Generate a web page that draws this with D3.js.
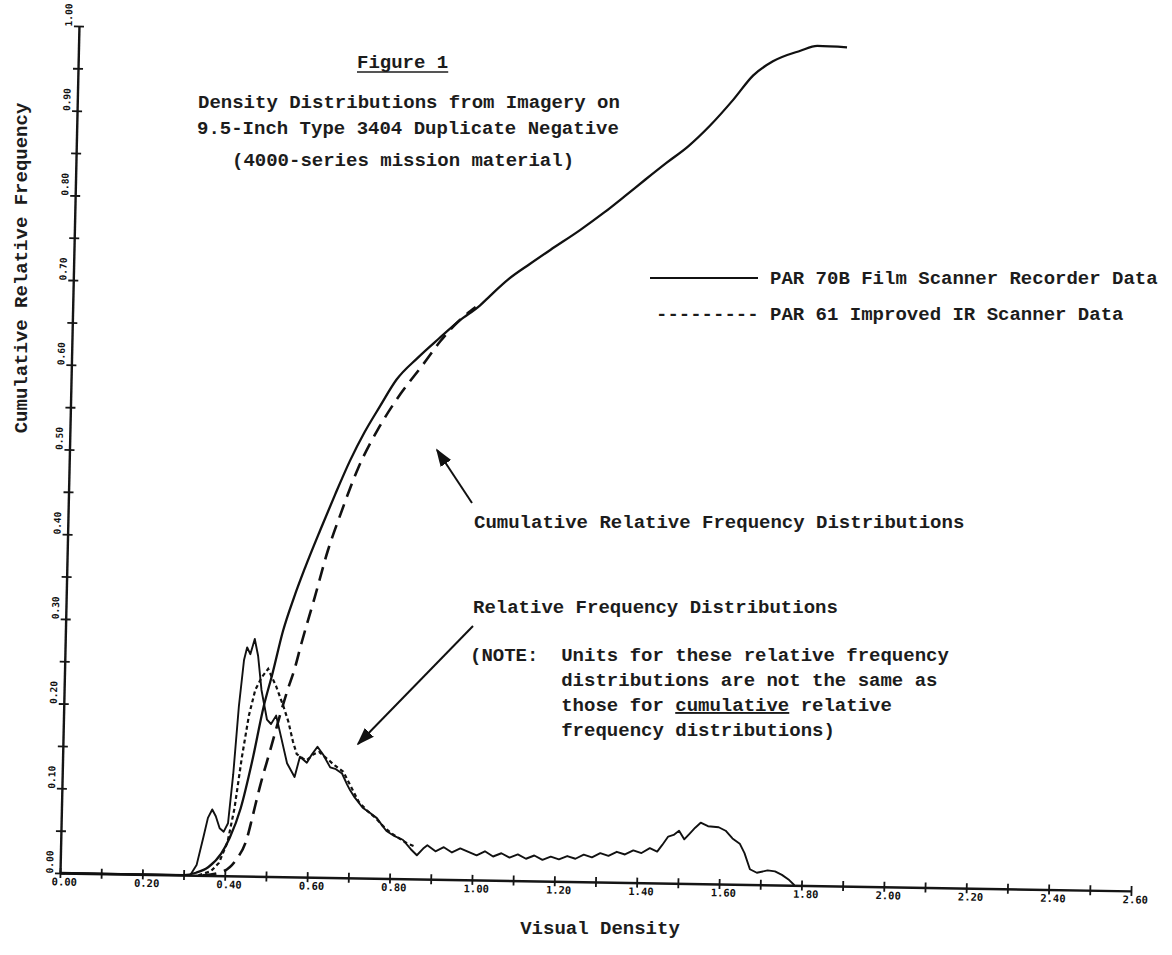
<!DOCTYPE html>
<html><head><meta charset="utf-8">
<script src="https://cdn.jsdelivr.net/npm/d3@7"></script>
<style>
body{margin:0;background:#fff;}
svg{display:block;background:#fff;}
.tw{font-family:"Liberation Mono","Courier New",monospace;font-weight:bold;font-size:19px;fill:#1c1c1c;}
.tkx{font-family:"DejaVu Sans Mono",monospace;font-weight:bold;font-size:10.5px;fill:#111;}
.tky{font-family:"DejaVu Sans Mono",monospace;font-weight:bold;font-size:9.5px;fill:#111;}
</style></head><body>
<svg id="chart" width="1172" height="955"></svg>
<script>
// ---- tick values / labels ----
const xTicks = [0,0.1,0.2,0.3,0.4,0.5,0.6,0.7,0.8,0.9,1.0,1.1,1.2,1.3,1.4,1.5,1.6,1.7,1.8,1.9,2.0,2.1,2.2,2.3,2.4,2.5,2.6];
const xTickLabels = {"0":"0.00","0.2":"0.20","0.4":"0.40","0.6":"0.60","0.8":"0.80","1":"1.00","1.2":"1.20","1.4":"1.40","1.6":"1.60","1.8":"1.80","2":"2.00","2.2":"2.20","2.4":"2.40","2.6":"2.60"};
const yTicks = [0,0.05,0.1,0.15,0.2,0.25,0.3,0.35,0.4,0.45,0.5,0.55,0.6,0.65,0.7,0.75,0.8,0.85,0.9,0.95,1.0];
const yTickLabels = {"0":"0.00","0.1":"0.10","0.2":"0.20","0.3":"0.30","0.4":"0.40","0.5":"0.50","0.6":"0.60","0.7":"0.70","0.8":"0.80","0.9":"0.90","1":"1.00"};

// ---- PAR 70B cumulative relative frequency ----
const cumDensity70B = [0,0.30,0.33,0.36,0.39,0.41,0.435,0.46,0.485,0.505,0.528,0.553,0.578,0.613,0.647,0.682,0.716,0.751,0.79,0.84,0.89,0.94,0.988,1.013,1.057,1.107,1.156,1.227,1.284,1.334,1.383,1.433,1.485,1.537,1.592,1.639,1.686,1.752,1.793,1.865];
const cumFreq70B    = [0,0,0.003,0.01,0.026,0.045,0.08,0.135,0.2,0.24,0.29,0.33,0.365,0.41,0.452,0.493,0.527,0.557,0.589,0.615,0.638,0.66,0.678,0.69,0.71,0.728,0.745,0.769,0.79,0.81,0.83,0.85,0.87,0.895,0.926,0.955,0.972,0.985,0.991,0.99];

// ---- PAR 61 cumulative relative frequency ----
const cumDensity61 = [0.346,0.395,0.425,0.452,0.464,0.48,0.504,0.525,0.542,0.558,0.573,0.603,0.632,0.662,0.701,0.751,0.80,0.85,0.894,0.939,0.978];
const cumFreq61    = [0,0.005,0.018,0.045,0.07,0.105,0.15,0.19,0.22,0.245,0.275,0.33,0.385,0.43,0.483,0.533,0.572,0.605,0.635,0.66,0.676];

// ---- PAR 70B relative frequency ----
const relDensity70B = [0,0.316,0.331,0.346,0.356,0.366,0.375,0.385,0.395,0.405,0.415,0.425,0.435,0.442,0.45,0.46,0.469,0.479,0.494,0.504,0.516,0.529,0.545,0.564,0.576,0.593,0.605,0.618,0.632,0.65,0.664,0.679,0.692,0.70,0.711,0.731,0.746,0.766,0.78,0.79,0.81,0.83,0.85,0.865,0.88,
  0.89,0.91,0.93,0.95,0.97,0.99,1.01,1.03,1.05,1.07,1.09,1.11,1.13,1.15,1.17,1.19,1.21,1.23,1.25,1.27,1.29,1.31,1.33,1.35,1.37,1.39,1.41,1.43,
  1.448,1.46,1.474,1.487,1.50,1.513,1.526,1.539,1.552,1.57,1.596,1.613,1.63,1.648,1.66,1.674,1.691,1.717,1.735,1.752,1.77,1.783];
const relFreq70B    = [0,0,0.012,0.045,0.068,0.078,0.07,0.056,0.052,0.062,0.12,0.2,0.255,0.27,0.262,0.28,0.26,0.22,0.185,0.18,0.19,0.165,0.134,0.118,0.142,0.135,0.145,0.154,0.145,0.13,0.128,0.123,0.11,0.103,0.095,0.083,0.078,0.071,0.062,0.056,0.05,0.046,0.035,0.028,0.036,
  0.04,0.033,0.038,0.032,0.037,0.033,0.029,0.034,0.028,0.032,0.027,0.031,0.026,0.03,0.025,0.029,0.026,0.03,0.027,0.032,0.029,0.034,0.031,0.036,0.033,0.038,0.035,0.041,
  0.037,0.045,0.055,0.057,0.062,0.052,0.059,0.066,0.072,0.068,0.067,0.063,0.054,0.048,0.037,0.018,0.014,0.017,0.016,0.012,0.006,0];

// ---- PAR 61 relative frequency ----
const relDensity61 = [0.336,0.366,0.385,0.405,0.42,0.435,0.45,0.464,0.479,0.494,0.504,0.514,0.522,0.534,0.546,0.558,0.568,0.583,0.593,0.608,0.622,0.642,0.662,0.682,0.701,0.721,0.741,0.761,0.781,0.80,0.82,0.84,0.86];
const relFreq61    = [0,0.005,0.015,0.04,0.08,0.14,0.19,0.22,0.235,0.245,0.235,0.225,0.215,0.2,0.183,0.16,0.145,0.14,0.138,0.145,0.148,0.14,0.132,0.125,0.108,0.09,0.08,0.072,0.062,0.054,0.048,0.042,0.038];

// ---- texts ----
const titleText = "Figure 1";
const subtitleLines = ["Density Distributions from Imagery on","9.5-Inch Type 3404 Duplicate Negative","(4000-series mission material)"];
const legendLabels = ["PAR 70B Film Scanner Recorder Data","PAR 61 Improved IR Scanner Data"];
const xTitle = "Visual Density";
const yTitle = "Cumulative Relative Frequency";

const svg = d3.select("#chart");

// plot group: the scanned page is slightly skewed
const g = svg.append("g").attr("transform","translate(60,873) matrix(1,0.0167,-0.0224,1,0,0)");
const x = d3.scaleLinear().domain([0,2.6]).range([0,1071]);
const y = d3.scaleLinear().domain([0,1]).range([0,-847]);

// x axis
const xa = g.append("g").call(d3.axisBottom(x).tickValues(xTicks).tickSize(0).tickSizeOuter(0)
  .tickFormat(d => xTickLabels[String(+d.toFixed(1))] || ""));
xa.select(".domain").attr("stroke","#151515").attr("stroke-width",2.4);
xa.selectAll(".tick line").attr("y1",-5).attr("y2",5).attr("stroke","#151515").attr("stroke-width",1.8);
xa.selectAll(".tick text").attr("class","tkx").attr("y",5).attr("dy","0.71em").attr("dx",4).attr("font-size",null).attr("font-family",null);

// y axis
const ya = g.append("g").call(d3.axisLeft(y).tickValues(yTicks).tickSize(0).tickSizeOuter(0)
  .tickFormat(d => yTickLabels[String(+d.toFixed(2))] || ""));
ya.select(".domain").attr("stroke","#151515").attr("stroke-width",2.4);
ya.selectAll(".tick line").attr("x1",-5).attr("x2",5).attr("stroke","#151515").attr("stroke-width",1.8);
ya.selectAll(".tick text").attr("class","tky").attr("x",0).attr("dy",0)
  .attr("text-anchor","start").attr("transform","translate(-7,0) rotate(-90)").attr("font-size",null).attr("font-family",null);

// curves
const lineOf = (xs, ys, curve) => d3.line().x((d,i)=>x(xs[i])).y((d,i)=>y(ys[i])).curve(curve)(xs);
g.append("path").attr("d", lineOf(cumDensity70B, cumFreq70B, d3.curveMonotoneX))
  .attr("fill","none").attr("stroke","#111").attr("stroke-width",2.3);
g.append("path").attr("d", lineOf(cumDensity61, cumFreq61, d3.curveMonotoneX))
  .attr("fill","none").attr("stroke","#111").attr("stroke-width",2.6).attr("stroke-dasharray","14,8");
g.append("path").attr("d", lineOf(relDensity70B, relFreq70B, d3.curveLinear))
  .attr("fill","none").attr("stroke","#111").attr("stroke-width",1.9).attr("stroke-linejoin","round");
g.append("path").attr("d", lineOf(relDensity61, relFreq61, d3.curveLinear))
  .attr("fill","none").attr("stroke","#111").attr("stroke-width",2.2).attr("stroke-dasharray","4,3");

// arrow marker
svg.append("defs").append("marker").attr("id","ah").attr("viewBox","0 0 10 10")
  .attr("refX",9).attr("refY",5).attr("markerWidth",9).attr("markerHeight",9).attr("orient","auto")
  .append("path").attr("d","M0,1.5 L10,5 L0,8.5 Z").attr("fill","#111");

// titles
const tFig = svg.append("text").attr("class","tw").attr("x",357).attr("y",68).text(titleText);
const fw = tFig.node().getComputedTextLength();
svg.append("line").attr("x1",357).attr("x2",357+fw).attr("y1",72).attr("y2",72).attr("stroke","#1c1c1c").attr("stroke-width",1.6);
const subX = [198,197,232], subY=[108,134,166];
subtitleLines.forEach((s,i)=> svg.append("text").attr("class","tw").attr("x",subX[i]).attr("y",subY[i]).text(s));

// legend
svg.append("line").attr("x1",650).attr("x2",758).attr("y1",278).attr("y2",278).attr("stroke","#111").attr("stroke-width",2);
svg.append("text").attr("class","tw").attr("x",770).attr("y",284).text(legendLabels[0]);
svg.append("text").attr("class","tw").attr("x",656).attr("y",320).text("---------");
svg.append("text").attr("class","tw").attr("x",770).attr("y",320).text(legendLabels[1]);

// annotations
svg.append("text").attr("class","tw").attr("x",474).attr("y",528).text("Cumulative Relative Frequency Distributions");
svg.append("line").attr("x1",472).attr("y1",503).attr("x2",437).attr("y2",450).attr("stroke","#111").attr("stroke-width",2).attr("marker-end","url(#ah)");
svg.append("text").attr("class","tw").attr("x",473).attr("y",613).text("Relative Frequency Distributions");
svg.append("line").attr("x1",473).attr("y1",626).attr("x2",358).attr("y2",744).attr("stroke","#111").attr("stroke-width",2).attr("marker-end","url(#ah)");
const noteLines = ["(NOTE:  Units for these relative frequency","        distributions are not the same as","        those for cumulative relative","        frequency distributions)"];
noteLines.forEach((s,i)=>{
  const t = svg.append("text").attr("class","tw").attr("x",470).attr("y",661+i*25).attr("xml:space","preserve").style("white-space","pre");
  if(i===2){
    t.append("tspan").text("        those for ");
    t.append("tspan").attr("text-decoration","underline").text("cumulative");
    t.append("tspan").text(" relative");
  } else t.text(s);
});

// axis titles
svg.append("text").attr("class","tw").attr("text-anchor","middle").attr("transform","translate(27,268) rotate(-90)").text(yTitle);
svg.append("text").attr("class","tw").attr("text-anchor","middle").attr("x",600).attr("y",934).text(xTitle);
</script>
</body></html>
